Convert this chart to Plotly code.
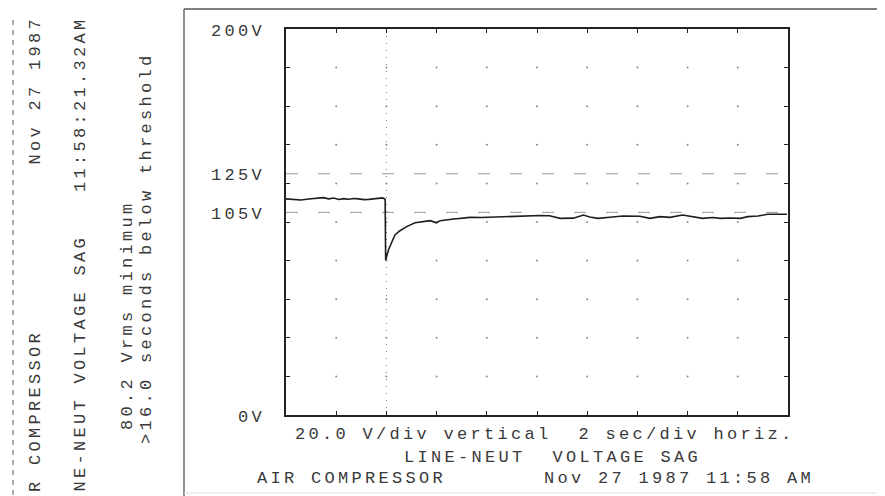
import plotly.graph_objects as go

# ---------------- data ----------------
time_s = [0.0, 0.3, 0.6, 0.9, 1.2, 1.5, 1.7, 1.9, 2.1, 2.3, 2.5, 2.7, 2.9, 3.1, 3.3,
          3.5, 3.7, 3.85, 3.95, 3.97, 4.08, 4.21, 4.34, 4.54, 4.81, 5.14, 5.47, 5.74,
          6.0, 6.14, 6.6, 7.0, 7.33, 7.8, 8.5, 9.2, 9.84, 10.12, 10.5, 10.92, 11.45,
          11.85, 12.1, 12.43, 12.9, 13.43, 14.1, 14.5, 14.9, 15.3, 15.8, 16.2, 16.6,
          17.0, 17.3, 17.7, 18.1, 18.4, 18.8, 19.2, 19.6, 19.96]
volts = [112.0, 111.6, 111.4, 111.9, 112.2, 112.6, 112.0, 112.4, 111.7, 112.1, 111.8,
         112.2, 112.0, 111.6, 111.7, 111.9, 112.3, 112.5, 111.8, 80.2, 85.5, 89.8,
         93.3, 95.5, 97.6, 99.6, 100.2, 100.7, 99.6, 100.7, 101.4, 101.9, 102.4, 102.3,
         102.7, 102.9, 103.1, 103.4, 103.2, 101.9, 102.0, 103.6, 102.6, 101.9, 102.5,
         103.1, 103.0, 101.9, 102.8, 102.4, 103.6, 102.8, 101.9, 102.3, 101.9, 102.1,
         101.9, 102.8, 103.1, 104.0, 104.1, 104.0]

x_div_ticks = [0, 2, 4, 6, 8, 10, 12, 14, 16, 18, 20]
y_div_ticks = [0, 20, 40, 60, 80, 100, 120, 140, 160, 180, 200]
y_label_vals = [200, 125, 105, 0]
y_label_text = ["200V", "125V", "105V", "0V"]
thresholds = [125, 105]
trigger_t = 4.0

footer_scale = "20.0 V/div vertical\u00a0 2 sec/div horiz."
footer_event = "LINE-NEUT\u00a0 VOLTAGE SAG"
footer_site = "AIR COMPRESSOR"
footer_date = "Nov 27 1987 11:58 AM"

# rotated header: the printout is cut at the page edge, only this part shows
header_site = "R COMPRESSOR"
header_date = "Nov 27 1987"
header_event = "NE-NEUT VOLTAGE SAG"
header_time = "11:58:21.32AM"
header_min = "80.2 Vrms minimum"
header_dur = ">16.0 seconds below threshold"

# ---------------- layout helpers ----------------
W, H = 885, 496
OFF = 8                      # page body offset of the figure in the browser
L, R, T, B = 286, 788, 29, 415   # plot area in page pixels
FONT = "Liberation Mono"
TXT = "#3a3a3a"
LS = 3.3


def px(x):
    return (x - L) / (R - L)


def py(y):
    return (B - y) / (B - T)


def sp(s):
    return '<span style="letter-spacing:%.1fpx">%s</span>' % (LS, s)


fig = go.Figure()

# grid dots at division intersections
gx, gy = [], []
for xv in x_div_ticks[1:-1]:
    for yv in y_div_ticks[1:-1]:
        gx.append(xv)
        gy.append(yv)
fig.add_trace(go.Scatter(x=gx, y=gy, mode="markers",
                         marker=dict(size=2, color="#8a8a8a"),
                         hoverinfo="skip", showlegend=False))

# voltage trace
fig.add_trace(go.Scatter(x=time_s, y=volts, mode="lines",
                         line=dict(color="#1e1e1e", width=1.6),
                         showlegend=False))

shapes = []
for th in thresholds:
    shapes.append(dict(type="line", xref="x", yref="y", x0=x_div_ticks[0], x1=x_div_ticks[-1],
                       y0=th, y1=th, line=dict(color="#999999", width=1, dash="12px,20px"),
                       layer="below"))
shapes.append(dict(type="line", xref="x", yref="y", x0=trigger_t, x1=trigger_t,
                   y0=y_div_ticks[0], y1=y_div_ticks[-1],
                   line=dict(color="#777777", width=1, dash="1px,6px"), layer="below"))
# outer frame of the printout
shapes.append(dict(type="line", xref="paper", yref="paper", x0=px(184), x1=px(893),
                   y0=py(9), y1=py(9), line=dict(color="#555555", width=1.3)))
shapes.append(dict(type="line", xref="paper", yref="paper", x0=px(184), x1=px(184),
                   y0=py(9), y1=py(504), line=dict(color="#555555", width=1.3)))
shapes.append(dict(type="line", xref="paper", yref="paper", x0=px(883), x1=px(883),
                   y0=py(9), y1=py(504), line=dict(color="#d8d8d8", width=1)))
shapes.append(dict(type="line", xref="paper", yref="paper", x0=px(184), x1=px(893),
                   y0=py(493), y1=py(493), line=dict(color="#e0e0e0", width=1)))
shapes.append(dict(type="line", xref="paper", yref="paper", x0=px(13), x1=px(13),
                   y0=py(20), y1=py(504), line=dict(color="#555555", width=1, dash="5px,5px")))

ann = []
for v, t in zip(y_label_vals, y_label_text):
    ann.append(dict(xref="paper", yref="y", x=px(267), y=v, text=sp(t), showarrow=False,
                    xanchor="right", yanchor="middle", yshift=-2,
                    font=dict(family=FONT, size=17, color=TXT)))


def foot(x, y, s):
    ann.append(dict(xref="paper", yref="paper", x=px(x), y=py(y), text=sp(s), showarrow=False,
                    xanchor="left", yanchor="middle",
                    font=dict(family=FONT, size=17, color=TXT)))


foot(293, 434, footer_scale)
foot(402, 457, footer_event)
foot(255, 479, footer_site)
foot(542, 479, footer_date)


def side(x, y, s, anchor):
    ann.append(dict(xref="paper", yref="paper", x=px(x), y=py(y), text=sp(s), showarrow=False,
                    xanchor="center", yanchor=anchor, textangle=-90,
                    font=dict(family=FONT, size=17, color=TXT)))


side(35, 494, header_site, "bottom")
side(35, 14, header_date, "top")
side(80, 494, header_event, "bottom")
side(80, 14, header_time, "top")
side(127, 432, header_min, "bottom")
side(146, 446, header_dur, "bottom")

axis_common = dict(showgrid=False, zeroline=False, showline=True, linecolor="#222222",
                   linewidth=1.5, mirror="ticks", ticks="inside", ticklen=4,
                   tickcolor="#222222", tickwidth=1.2, showticklabels=False, fixedrange=True)

fig.update_layout(
    width=W, height=H,
    margin=dict(l=L - OFF, r=W - (R - OFF), t=T - OFF, b=H - (B - OFF), pad=0),
    paper_bgcolor="white", plot_bgcolor="white",
    xaxis=dict(range=[x_div_ticks[0], x_div_ticks[-1]], tickvals=x_div_ticks, **axis_common),
    yaxis=dict(range=[y_div_ticks[0], y_div_ticks[-1]], tickvals=y_div_ticks, **axis_common),
    shapes=shapes, annotations=ann, showlegend=False,
)

fig.write_html("out.html")
